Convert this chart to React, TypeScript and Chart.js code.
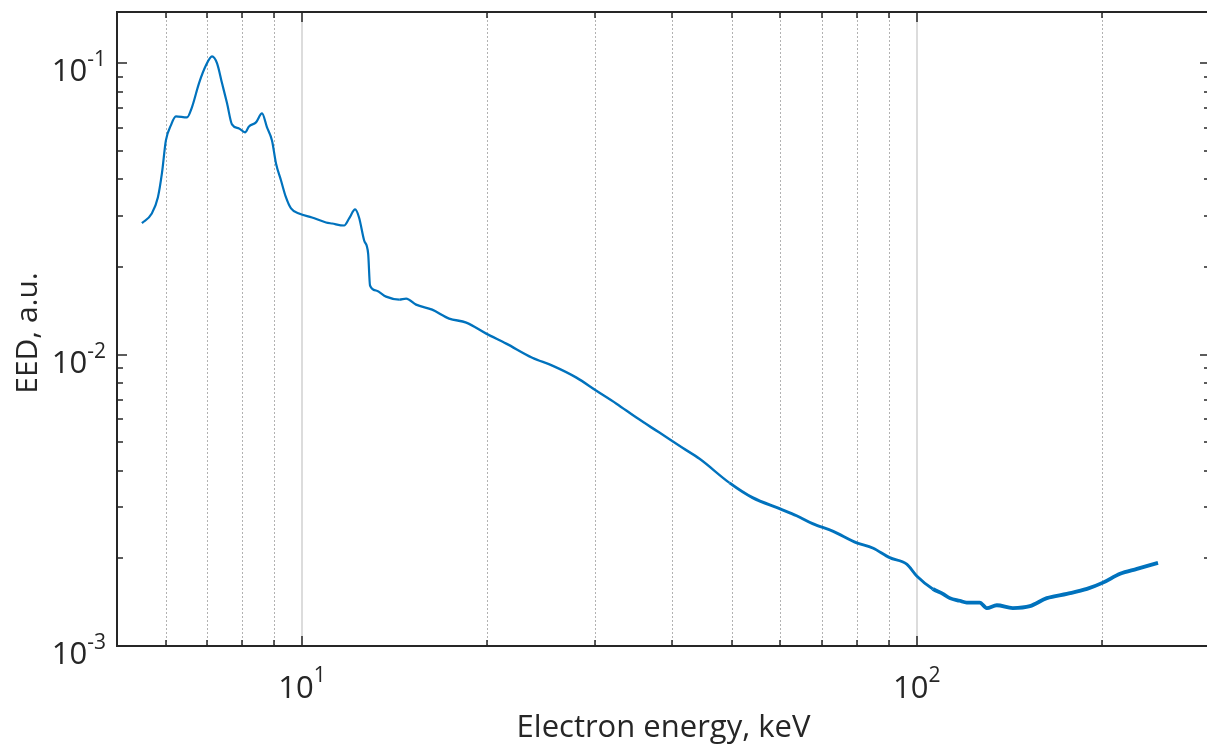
import React, { useEffect, useRef } from "react";
import { Chart, registerables } from "chart.js";

Chart.register(...registerables);

// ---- Data ----
const energyKeV: number[] = [
  5.489, 5.696, 5.827, 5.916, 6.005, 6.118, 6.234, 6.498, 6.62, 6.797,
  6.978, 7.138, 7.274, 7.411, 7.551, 7.691, 7.897, 8.077, 8.198, 8.415,
  8.608, 8.77, 8.935, 9.071, 9.243, 9.417, 9.596, 9.888, 10.38, 10.94,
  11.19, 11.71, 11.93, 12.2, 12.38, 12.62, 12.81, 12.9, 13.2, 13.7,
  14.39, 14.77, 15.33, 16.28, 17.35, 18.5, 19.94, 21.49, 23.69, 25.54,
  27.95, 30.12, 32.47, 34.99, 38.14, 41.58, 44.33, 49.6, 54.06, 59.83,
  63.77, 67.7, 72.99, 79.88, 84.8, 90.37, 96.32, 100.0, 106.2, 110.3,
  113.2, 117.5, 120.6, 126.6, 130.0, 135.0, 143.3, 152.8, 162.8,
  175.5, 189.2, 200.9, 214.2, 228.2, 246.9,
];
const eed: number[] = [
  0.02827, 0.03051, 0.03463, 0.04188, 0.05436, 0.06122, 0.06573, 0.0652, 0.07062, 0.08537,
  0.09843, 0.1057, 0.1, 0.08537, 0.07287, 0.06172, 0.05977, 0.05792, 0.06073, 0.0627,
  0.06733, 0.06026, 0.05436, 0.04533, 0.03961, 0.03463, 0.03176, 0.03051, 0.02957, 0.02843,
  0.02819, 0.02775, 0.02934, 0.0315, 0.02957, 0.02465, 0.02224, 0.01727, 0.0166, 0.01582,
  0.01545, 0.01557, 0.01485, 0.01427, 0.0133, 0.01288, 0.01181, 0.01091, 0.00976, 0.00917,
  0.00834, 0.00752, 0.00679, 0.00608, 0.0054, 0.00479, 0.00439, 0.00363, 0.00323, 0.00296,
  0.0028, 0.00263, 0.00248, 0.00226, 0.00217, 0.00201, 0.00191, 0.00174, 0.00157, 0.00151,
  0.00146, 0.00143, 0.00141, 0.00141, 0.00135, 0.00138, 0.00135, 0.00137, 0.00146,
  0.00151, 0.00157, 0.00165, 0.00177, 0.00184, 0.00193,
];

const xRange: number[] = [5, 300];
const yRange: number[] = [1e-3, 0.15];
const xMajorTicks: number[] = [10, 100];
const xMajorExps: string[] = ["1", "2"];
const xMinorTicks: number[] = [6, 7, 8, 9, 20, 30, 40, 50, 60, 70, 80, 90, 200];
const yMajorTicks: number[] = [1e-3, 1e-2, 1e-1];
const yMajorExps: string[] = ["-3", "-2", "-1"];
const yMinorTicks: number[] = [
  2e-3, 3e-3, 4e-3, 5e-3, 6e-3, 7e-3, 8e-3, 9e-3,
  2e-2, 3e-2, 4e-2, 5e-2, 6e-2, 7e-2, 8e-2, 9e-2,
];
const xTitle = "Electron energy, keV";
const yTitle = "EED, a.u.";

const FONT = '"Open Sans", "Noto Sans", "DejaVu Sans", sans-serif';
const TEXT = "#262626";

const axesPlugin = {
  id: "matlabAxes",
  beforeDatasetsDraw(chart: any) {
    const { ctx, chartArea: a, scales } = chart;
    const xs = scales.x;
    ctx.save();
    ctx.lineWidth = 1;
    ctx.strokeStyle = "#b2b2b2";
    ctx.setLineDash([2, 2]);
    for (const v of xMinorTicks) {
      const px = Math.round(xs.getPixelForValue(v)) + 0.5;
      ctx.beginPath();
      ctx.moveTo(px, a.top);
      ctx.lineTo(px, a.bottom);
      ctx.stroke();
    }
    ctx.setLineDash([]);
    ctx.strokeStyle = "#dcdcdc";
    ctx.lineWidth = 2;
    for (const v of xMajorTicks) {
      const px = Math.round(xs.getPixelForValue(v));
      ctx.beginPath();
      ctx.moveTo(px, a.top);
      ctx.lineTo(px, a.bottom);
      ctx.stroke();
    }
    ctx.restore();
  },
  afterDatasetsDraw(chart: any) {
    const { ctx, chartArea: a, scales } = chart;
    const xs = scales.x;
    const ys = scales.y;
    ctx.save();
    ctx.strokeStyle = TEXT;
    ctx.lineWidth = 2;
    ctx.strokeRect(a.left, a.top, a.right - a.left, a.bottom - a.top);

    ctx.lineWidth = 1.5;
    const tick = (x1: number, y1: number, x2: number, y2: number) => {
      ctx.beginPath();
      ctx.moveTo(x1, y1);
      ctx.lineTo(x2, y2);
      ctx.stroke();
    };
    const MAJ = 10;
    const MIN = 6;
    xMajorTicks.forEach((v) => {
      const px = Math.round(xs.getPixelForValue(v));
      tick(px, a.bottom, px, a.bottom - MAJ);
      tick(px, a.top, px, a.top + MAJ);
    });
    xMinorTicks.forEach((v) => {
      const px = Math.round(xs.getPixelForValue(v));
      tick(px, a.bottom, px, a.bottom - MIN);
      tick(px, a.top, px, a.top + MIN);
    });
    yMajorTicks.forEach((v) => {
      const py = Math.round(ys.getPixelForValue(v));
      tick(a.left, py, a.left + MAJ, py);
      tick(a.right, py, a.right - MAJ, py);
    });
    yMinorTicks.forEach((v) => {
      const py = Math.round(ys.getPixelForValue(v));
      tick(a.left, py, a.left + MIN, py);
      tick(a.right, py, a.right - MIN, py);
    });

    ctx.fillStyle = TEXT;
    ctx.textBaseline = "alphabetic";
    ctx.textAlign = "left";
    const baseFont = "31px " + FONT;
    const expFont = "21px " + FONT;

    // y tick labels
    yMajorTicks.forEach((v, i) => {
      const py = ys.getPixelForValue(v);
      ctx.font = expFont;
      const we = ctx.measureText(yMajorExps[i]).width;
      ctx.font = baseFont;
      const wb = ctx.measureText("10").width;
      const right = a.left - 11;
      ctx.fillText("10", right - we - wb, py + 18);
      ctx.font = expFont;
      ctx.fillText(yMajorExps[i], right - we, py + 3);
    });

    // x tick labels
    xMajorTicks.forEach((v, i) => {
      const px = xs.getPixelForValue(v);
      ctx.font = expFont;
      const we = ctx.measureText(xMajorExps[i]).width;
      ctx.font = baseFont;
      const wb = ctx.measureText("10").width;
      const start = px - (wb + we) / 2;
      ctx.fillText("10", start, a.bottom + 52);
      ctx.font = expFont;
      ctx.fillText(xMajorExps[i], start + wb, a.bottom + 36);
    });

    // axis titles
    ctx.font = "31px " + FONT;
    ctx.textAlign = "center";
    ctx.fillText(xTitle, (a.left + a.right) / 2, a.bottom + 91);
    ctx.font = "30px " + FONT;
    ctx.save();
    ctx.translate(37, (a.top + a.bottom) / 2 + 4);
    ctx.rotate(-Math.PI / 2);
    ctx.fillText(yTitle, 0, 0);
    ctx.restore();

    ctx.restore();
  },
};

export default function App() {
  const canvasRef = useRef<HTMLCanvasElement | null>(null);

  useEffect(() => {
    const canvas = canvasRef.current;
    if (!canvas) return;
    const points = energyKeV.map((x, i) => ({ x, y: eed[i] }));
    const chart = new Chart(canvas, {
      type: "line",
      data: {
        datasets: [
          {
            data: points,
            borderColor: "#0072BD",
            backgroundColor: "#0072BD",
            borderWidth: 2.2,
            pointRadius: 0,
            cubicInterpolationMode: "monotone",
            fill: false,
            segment: {
              borderWidth: (c: any) => {
                const x = c.p0.parsed.x;
                if (x >= 105) return 3.8;
                if (x >= 45) return 2.9;
                if (x >= 14) return 2.4;
                return 2.2;
              },
            },
          } as any,
        ],
      },
      options: {
        animation: false,
        responsive: false,
        maintainAspectRatio: false,
        devicePixelRatio: 1,
        layout: { padding: { left: 117, top: 12, right: 2, bottom: 98 } },
        plugins: {
          legend: { display: false },
          tooltip: { enabled: false },
          title: { display: false },
        },
        scales: {
          x: { type: "logarithmic", min: xRange[0], max: xRange[1], display: false },
          y: { type: "logarithmic", min: yRange[0], max: yRange[1], display: false },
        },
      },
      plugins: [axesPlugin],
    });
    let alive = true;
    if ((document as any).fonts && (document as any).fonts.load) {
      Promise.all([
        (document as any).fonts.load('31px "Open Sans"'),
        (document as any).fonts.load('21px "Open Sans"'),
      ])
        .then(() => {
          if (alive) chart.draw();
        })
        .catch(() => {});
    }
    return () => {
      alive = false;
      chart.destroy();
    };
  }, []);

  return (
    <div
      style={{
        position: "fixed",
        left: 0,
        top: 0,
        width: 1207,
        height: 744,
        overflow: "hidden",
        background: "#ffffff",
      }}
    >
      <canvas
        ref={canvasRef}
        width={1212}
        height={744}
        style={{ display: "block", width: 1212, height: 744 }}
      />
    </div>
  );
}
